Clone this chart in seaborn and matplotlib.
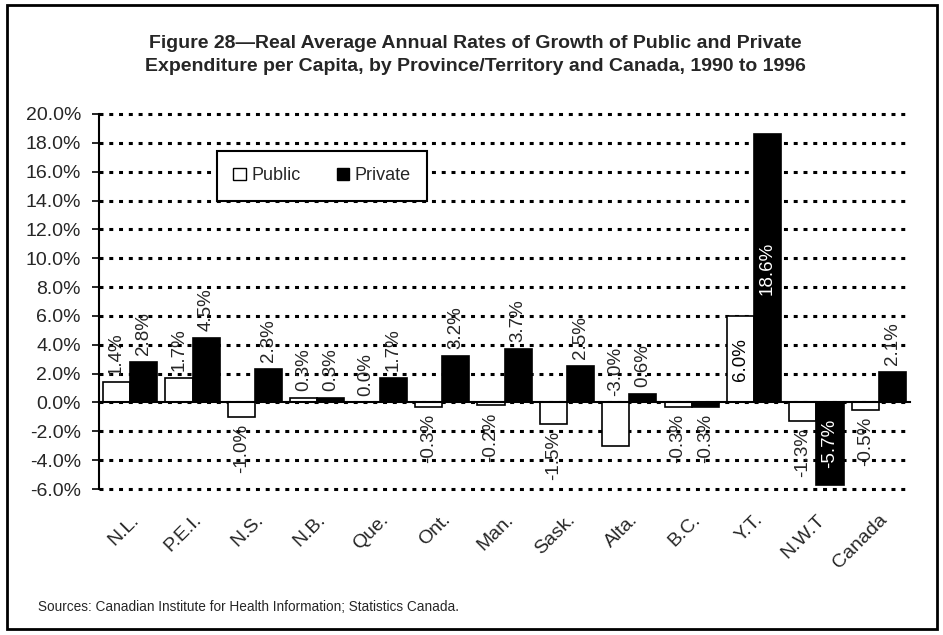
import matplotlib
matplotlib.use("Agg")
import matplotlib.pyplot as plt
import seaborn as sns
import pandas as pd
from matplotlib.patches import Rectangle

regions = ["N.L.", "P.E.I.", "N.S.", "N.B.", "Que.", "Ont.", "Man.", "Sask.",
           "Alta.", "B.C.", "Y.T.", "N.W.T", "Canada"]
public = [1.4, 1.7, -1.0, 0.3, 0.0, -0.3, -0.2, -1.5, -3.0, -0.3, 6.0, -1.3, -0.5]
private = [2.8, 4.5, 2.3, 0.3, 1.7, 3.2, 3.7, 2.5, 0.6, -0.3, 18.6, -5.7, 2.1]
series = ["Public", "Private"]
yticks = list(range(-6, 21, 2))

title = ("Figure 28\u2014Real Average Annual Rates of Growth of Public and Private\n"
         "Expenditure per Capita, by Province/Territory and Canada, 1990 to 1996")
source = "Sources: Canadian Institute for Health Information; Statistics Canada."

df = pd.DataFrame({
    "region": regions * 2,
    "value": public + private,
    "sector": ["Public"] * len(regions) + ["Private"] * len(regions),
})

sns.set_style("white")
plt.rcParams["font.family"] = ["Liberation Sans", "DejaVu Sans"]

fig = plt.figure(figsize=(9.43, 6.35), dpi=100)
ax = fig.add_axes([99 / 943, 1 - 489 / 635, 811 / 943, 375 / 635])

sns.barplot(data=df, x="region", y="value", hue="sector", hue_order=series,
            palette={"Public": "white", "Private": "black"}, edgecolor="black",
            linewidth=1.2, width=0.87, ax=ax, legend=True)

ax.set_ylim(-6, 20)
ax.set_xlim(-0.5, len(regions) - 0.5)
ax.set_yticks(yticks)
ax.set_yticklabels([f"{t:.1f}%" for t in yticks], fontsize=14)
ax.set_axisbelow(True)
ax.yaxis.grid(True, color="black", linestyle=(0, (1.3, 1.9)), linewidth=2.2)
for gl in ax.get_ygridlines():
    gl.set_clip_on(False)
ax.xaxis.grid(False)
ax.set_xlabel("")
ax.set_ylabel("")

for s in ["top", "right"]:
    ax.spines[s].set_visible(False)
ax.spines["left"].set_linewidth(1.5)
ax.spines["left"].set_color("black")
ax.spines["bottom"].set_position(("data", 0))
ax.spines["bottom"].set_linewidth(1.5)
ax.spines["bottom"].set_color("black")
ax.set_xticks([i - 0.5 for i in range(len(regions) + 1)])
ax.set_xticklabels([])
ax.tick_params(axis="x", direction="out", length=5, width=1.2, color="black")
ax.tick_params(axis="y", direction="out", length=5, width=1.2, color="black", pad=8,
               left=True)

secax = ax.secondary_xaxis("bottom")
secax.set_xticks(range(len(regions)))
secax.set_xticklabels(regions, rotation=45, ha="right", va="top",
                      rotation_mode="anchor", fontsize=14)
secax.tick_params(length=0, pad=16)
secax.spines["bottom"].set_visible(False)

# data labels
lab_fs = 13.5
for cont in ax.containers:
    for bar in cont:
        v = bar.get_y() if bar.get_y() < 0 else bar.get_height()
        xc = bar.get_x() + bar.get_width() / 2
        txt = f"{v:.1f}%"
        dark = bar.get_facecolor()[0] < 0.5
        if abs(v) >= 5:
            ax.text(xc, v / 2, txt, rotation=90, ha="center", va="center",
                    fontsize=lab_fs, color="white" if dark else "black")
        elif v - 4.3 < -6:
            ax.annotate(txt, (xc, 0), xytext=(0, 5), textcoords="offset points",
                        rotation=90, ha="center", va="bottom", fontsize=lab_fs)
        elif v >= 0:
            ax.annotate(txt, (xc, v), xytext=(0, 5), textcoords="offset points",
                        rotation=90, ha="center", va="bottom", fontsize=lab_fs)
        else:
            ax.annotate(txt, (xc, v), xytext=(0, -5), textcoords="offset points",
                        rotation=90, ha="center", va="top", fontsize=lab_fs)

leg = ax.legend(loc="upper left", bbox_to_anchor=((217 - 99) / 811, (489 - 151) / 375),
                ncol=2, frameon=True, fancybox=False, fontsize=13, borderpad=0.9,
                handlelength=0.7, handleheight=0.7, handletextpad=0.3,
                columnspacing=2.0, borderaxespad=0, framealpha=1)
leg.get_frame().set_edgecolor("black")
leg.get_frame().set_linewidth(1.5)
for h in leg.legend_handles:
    h.set_edgecolor("black")
    h.set_linewidth(1)

fig.text(475 / 943, 1 - 55 / 635, title, ha="center", va="center", fontsize=14,
         fontweight="bold", linespacing=1.45)
fig.text(38 / 943, 1 - 607 / 635, source, ha="left", va="center", fontsize=9.8)

fig.add_artist(Rectangle((7 / 943, 1 - 629 / 635), 930 / 943, 624 / 635,
                         transform=fig.transFigure, fill=False,
                         edgecolor="black", linewidth=2))

fig.savefig("out.png", dpi=100)
